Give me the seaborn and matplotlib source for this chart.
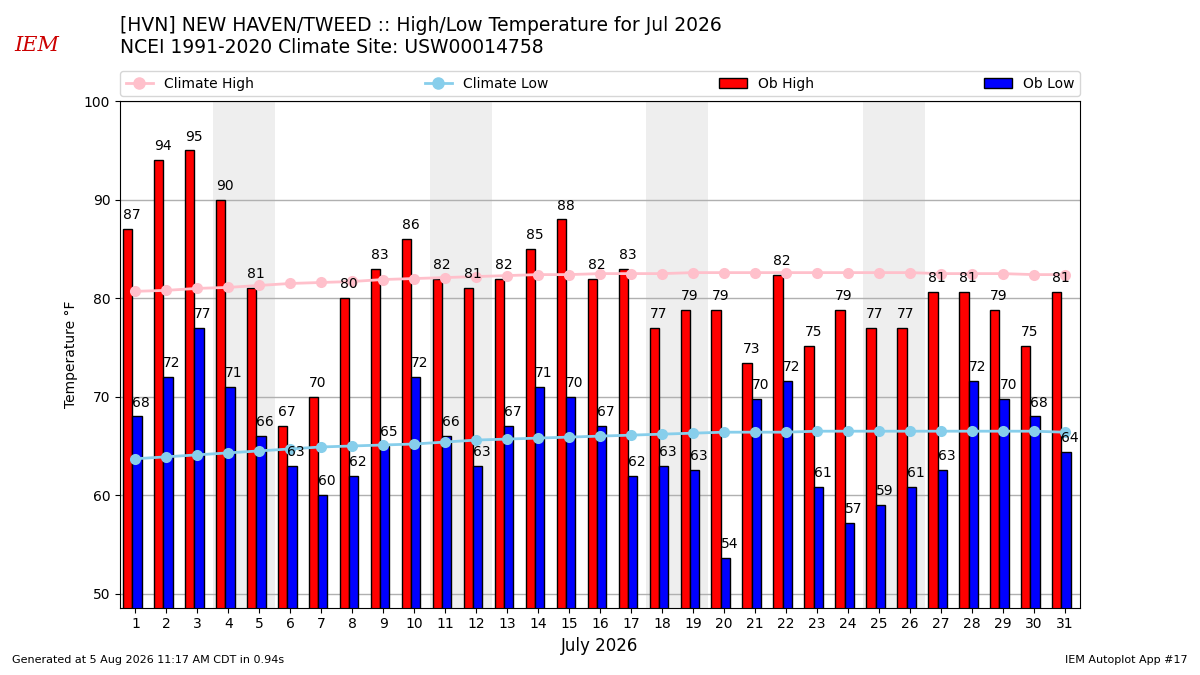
import numpy as np
import pandas as pd
import seaborn as sns
import matplotlib.pyplot as plt
from matplotlib.patches import Patch
from matplotlib.lines import Line2D

# July 2026 daily observations at HVN (deg F)
days = list(range(1, 32))
ob_high = [87, 94, 95, 90, 81, 67, 70, 80, 83, 86, 82, 81, 82, 85, 88, 82,
           83, 77, 78.8, 78.8, 73.4, 82.4, 75.2, 78.8, 77, 77, 80.6, 80.6,
           78.8, 75.2, 80.6]
ob_low = [68, 72, 77, 71, 66, 63, 60, 62, 65, 72, 66, 63, 67, 71, 70, 67,
          62, 63, 62.6, 53.6, 69.8, 71.6, 60.8, 57.2, 59, 60.8, 62.6, 71.6,
          69.8, 68, 64.4]
# NCEI 1991-2020 daily normals
climate_high = [80.7, 80.8, 81.0, 81.1, 81.3, 81.5, 81.6, 81.7, 81.9, 82.0,
                82.1, 82.2, 82.3, 82.4, 82.4, 82.5, 82.5, 82.5, 82.6, 82.6,
                82.6, 82.6, 82.6, 82.6, 82.6, 82.6, 82.5, 82.5, 82.5, 82.4,
                82.4]
climate_low = [63.7, 63.9, 64.1, 64.3, 64.5, 64.7, 64.9, 65.0, 65.1, 65.2,
               65.4, 65.6, 65.7, 65.8, 65.9, 66.0, 66.1, 66.2, 66.3, 66.4,
               66.4, 66.4, 66.5, 66.5, 66.5, 66.5, 66.5, 66.5, 66.5, 66.5,
               66.4]
weekends = [(4, 5), (11, 12), (18, 19), (25, 26)]

obs = pd.DataFrame({"day": days, "Ob High": ob_high, "Ob Low": ob_low})
obs_long = obs.melt(id_vars="day", var_name="kind", value_name="temp")
# pair of bars sits slightly left of the day tick
obs_long["xpos"] = obs_long["day"] - 0.1
clim = pd.DataFrame({"day": days, "high": climate_high, "low": climate_low})

fig = plt.figure(figsize=(12, 6.75), dpi=100)
ax = fig.add_axes([0.1, 0.1, 0.8, 0.75])

for d0, d1 in weekends:
    ax.axvspan(d0 - 0.5, d1 + 0.5, color="#eeeeee", zorder=0, lw=0)

sns.barplot(data=obs_long, x="xpos", y="temp", hue="kind", native_scale=True,
            width=0.6, palette={"Ob High": "red", "Ob Low": "blue"},
            edgecolor="black", linewidth=1, errorbar=None, legend=False,
            saturation=1, ax=ax, zorder=2)

sns.lineplot(data=clim, x="day", y="high", color="pink", marker="o",
             markersize=8, markeredgewidth=0, lw=2, ax=ax, zorder=3)
sns.lineplot(data=clim, x="day", y="low", color="skyblue", marker="o",
             markersize=8, markeredgewidth=0, lw=2, ax=ax, zorder=3)

for d, hi, lo in zip(days, ob_high, ob_low):
    ax.text(d - 0.4, hi + 0.7, f"{hi:.0f}", ha="left", va="bottom",
            fontsize=10, zorder=4)
    ax.text(d - 0.1, lo + 0.7, f"{lo:.0f}", ha="left", va="bottom",
            fontsize=10, zorder=4)

ax.set_xlim(0.5, 31.5)
ax.set_ylim(min(ob_low) - 5, 100)
ax.set_xticks(days)
ax.set_xticklabels([str(d) for d in days])
ax.set_yticks(range(50, 101, 10))
ax.tick_params(labelsize=10)
ax.grid(axis="y", color="#b0b0b0", lw=1)
ax.grid(axis="x", visible=False)
ax.set_axisbelow(True)
ax.set_xlabel("July 2026", fontsize=12)
ax.set_ylabel("Temperature \u00b0F", fontsize=10)

handles = [
    Line2D([], [], color="pink", marker="o", markersize=8, lw=2),
    Line2D([], [], color="skyblue", marker="o", markersize=8, lw=2),
    Patch(facecolor="red", edgecolor="black"),
    Patch(facecolor="blue", edgecolor="black"),
]
ax.legend(handles, ["Climate High", "Climate Low", "Ob High", "Ob Low"],
          bbox_to_anchor=(0, 1.01, 1, 0.06), loc="lower left", ncol=4,
          mode="expand", borderaxespad=0, fontsize=10)

fig.text(0.1, 0.977, "[HVN] NEW HAVEN/TWEED :: High/Low Temperature for Jul 2026\n"
         "NCEI 1991-2020 Climate Site: USW00014758", ha="left", va="top",
         fontsize=13.5)
fig.text(0.031, 0.933, "IEM", color="#cc0000", fontsize=15, style="italic",
         family="serif", ha="center", va="center")
fig.text(0.01, 0.015, "Generated at 5 Aug 2026 11:17 AM CDT in 0.94s",
         fontsize=8, ha="left", va="bottom")
fig.text(0.99, 0.015, "IEM Autoplot App #17", fontsize=8, ha="right",
         va="bottom")

fig.savefig("out.png", dpi=100)
